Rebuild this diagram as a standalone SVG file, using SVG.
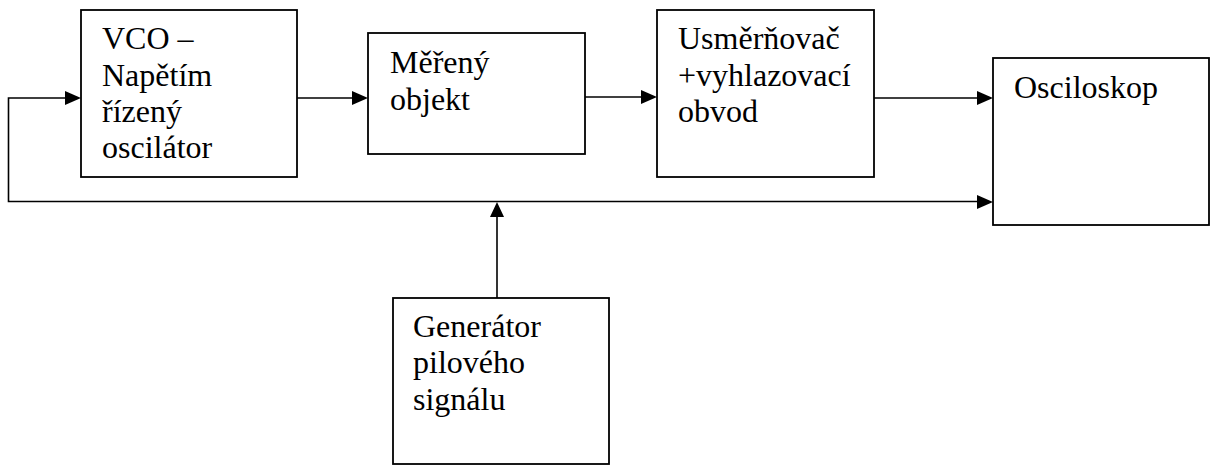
<svg xmlns="http://www.w3.org/2000/svg" width="1211" height="466" viewBox="0 0 1211 466">
<style>
.box{fill:#fff;stroke:#000;stroke-width:1.8}
.ln{fill:none;stroke:#000;stroke-width:1.6}
.ah{fill:#000;stroke:none}
.t{font-family:"Liberation Serif","DejaVu Serif",serif;font-size:32px;fill:#000}
</style>
<rect width="1211" height="466" fill="#fff"/>
<g id="vco"><rect class="box" x="81" y="10" width="216" height="167"/>
<text class="t"><tspan x="102" y="49">VCO –</tspan><tspan x="102" y="86">Napětím</tspan><tspan x="102" y="122">řízený</tspan><tspan x="102" y="158">oscilátor</tspan></text></g>
<g id="mereny"><rect class="box" x="368" y="33" width="217" height="121"/>
<text class="t"><tspan x="390" y="73">Měřený</tspan><tspan x="390" y="110">objekt</tspan></text></g>
<g id="usmernovac"><rect class="box" x="657" y="10" width="217" height="167"/>
<text class="t"><tspan x="678" y="49">Usměrňovač</tspan><tspan x="678" y="86">+vyhlazovací</tspan><tspan x="678" y="122">obvod</tspan></text></g>
<g id="osciloskop"><rect class="box" x="993" y="58" width="216" height="167"/>
<text class="t" x="1014" y="98">Osciloskop</text></g>
<g id="generator"><rect class="box" x="393" y="298" width="216" height="166"/>
<text class="t"><tspan x="413" y="337">Generátor</tspan><tspan x="413" y="373">pilového</tspan><tspan x="413" y="410">signálu</tspan></text></g>
<g id="connectors">
<path class="ln" d="M297 98H354"/><polygon class="ah" points="368,98 352,91 352,105"/>
<path class="ln" d="M585 97H642"/><polygon class="ah" points="657,97 641,90 641,104"/>
<path class="ln" d="M874 98H978"/><polygon class="ah" points="993,98 977,91 977,105"/>
<path class="ln" d="M66 98H8.5V201.5H978"/><polygon class="ah" points="81,98 65,91 65,105"/><polygon class="ah" points="993,202 977,195 977,209"/>
<path class="ln" d="M497 298V216"/><polygon class="ah" points="497,202 490,217 504,217"/>
</g>
</svg>
